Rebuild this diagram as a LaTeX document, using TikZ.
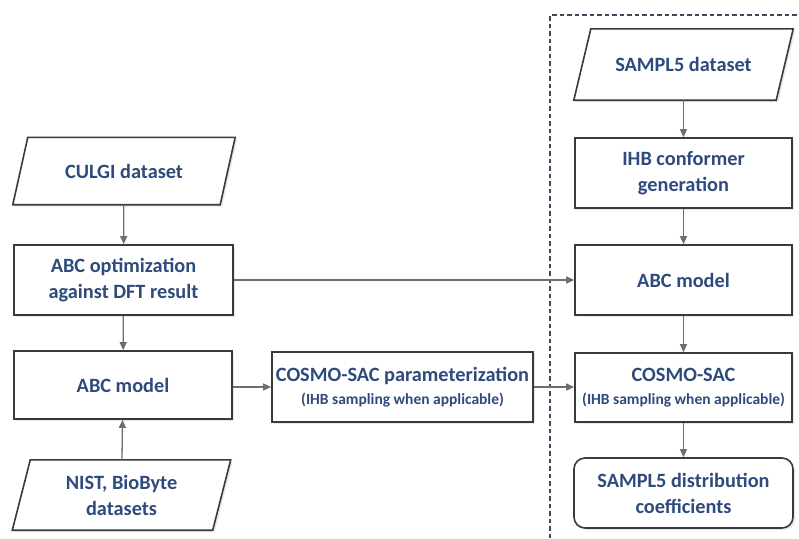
\documentclass[tikz,border=0pt]{standalone}
\usepackage{fontspec}
\setmainfont{Carlito}
\usetikzlibrary{arrows.meta,shadows}

\definecolor{txtblue}{RGB}{47,74,124}
\definecolor{boxline}{RGB}{58,58,58}
\definecolor{arrowgray}{RGB}{110,110,110}
\definecolor{dashblue}{RGB}{60,74,96}

\newcommand\smallnote[1]{{\fontsize{15.5}{18}\selectfont\bfseries #1}}

\tikzset{
  lbl/.style={font=\fontsize{20.3}{26}\selectfont\bfseries, text=txtblue, align=center},
  stepbox/.style={lbl, draw=boxline, line width=1.6pt, fill=white,
    drop shadow={opacity=0.18, shadow xshift=2pt, shadow yshift=-2pt},
    inner sep=0pt},
  databox/.style={lbl, inner sep=0pt},
  endbox/.style={stepbox, rounded corners=11pt},
  flow/.style={draw=arrowgray, line width=1.3pt,
    -{Triangle[length=8pt,width=7pt]}}
}

\begin{document}
\begin{tikzpicture}[x=1pt,y=-1pt]
\useasboundingbox (0,0) rectangle (799,538);

% dashed frame around the SAMPL5 workflow
\draw[dashblue, line width=1.2pt, dash pattern=on 4.5pt off 3pt]
  (550,538) -- (550,15) -- (799,15);

% dataset inputs (bodies of the parallelograms)
\node[databox, minimum width=207pt, minimum height=67pt] (culgi) at (124,171) {};
\node[databox, minimum width=200pt, minimum height=70pt] (nist) at (121.5,495) {};
\node[databox, minimum width=202pt, minimum height=71pt] (sampl) at (683.5,64.5) {};

% parallelogram outlines
\foreach \n/\s in {culgi/7.5, nist/9, sampl/8.5}{
  \draw[boxline, line width=1.6pt, fill=white,
        drop shadow={opacity=0.18, shadow xshift=2pt, shadow yshift=-2pt}]
    ([xshift=\s pt]\n.north west) -- ([xshift=\s pt]\n.north east)
    -- ([xshift=-\s pt]\n.south east) -- ([xshift=-\s pt]\n.south west) -- cycle;
}
\node[databox] (culgitxt) at (culgi) {CULGI dataset};
\node[databox] (nisttxt) at (nist) {NIST, BioByte\\datasets};
\node[databox] (sampltxt) at (sampl) {SAMPL5 dataset};

% left column
\node[stepbox, minimum width=219pt, minimum height=70pt] (abcopt) at (123.5,280)
  {ABC optimization\\against DFT result};
\node[stepbox, minimum width=218pt, minimum height=68pt] (abcl) at (123,385) {ABC model};

% parameterization step
\node[stepbox, minimum width=261pt, minimum height=70pt] (cosmop) at (402.5,387)
  {COSMO-SAC parameterization\\[-3pt]\smallnote{(IHB sampling when applicable)}};

% right column
\node[stepbox, minimum width=217pt, minimum height=70pt] (ihb) at (683.5,173)
  {IHB conformer\\generation};
\node[stepbox, minimum width=217pt, minimum height=70pt] (abcr) at (683.5,280) {ABC model};
\node[stepbox, minimum width=217pt, minimum height=69pt] (cosmor) at (683.5,387.5)
  {COSMO-SAC\\[-3pt]\smallnote{(IHB sampling when applicable)}};
\node[endbox, minimum width=219pt, minimum height=70pt] (out) at (683.5,493)
  {SAMPL5 distribution\\coefficients};

% connectors
\draw[flow] (culgi) -- (abcopt);
\draw[flow] (abcopt) -- (abcl);
\draw[flow] (nist) -- (abcl);
\draw[flow] (abcopt) -- (abcr);
\draw[flow] (abcl.east |- cosmop) -- (cosmop);
\draw[flow] (cosmop) -- (cosmop -| cosmor.west);
\draw[flow] (sampl) -- (ihb);
\draw[flow] (ihb) -- (abcr);
\draw[flow] (abcr) -- (cosmor);
\draw[flow] (cosmor) -- (out);
\end{tikzpicture}
\end{document}
